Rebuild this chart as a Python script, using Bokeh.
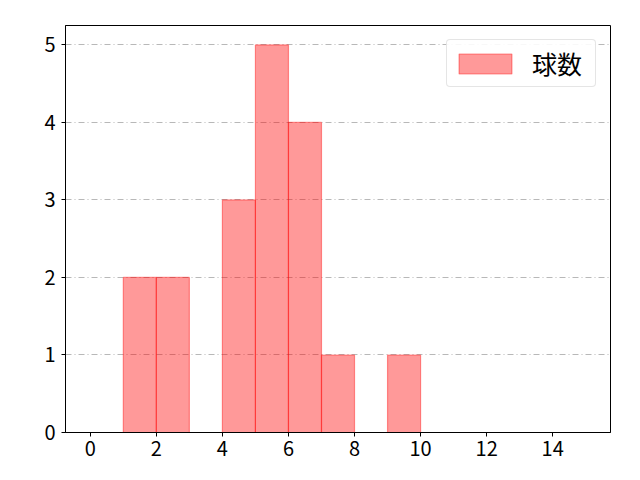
from bokeh.plotting import figure
from bokeh.models import Range1d, Legend, LegendItem, FixedTicker
from bokeh.embed import file_html
from bokeh.resources import INLINE

bin_left = [1, 2, 4, 5, 6, 7, 9]
bin_right = [2, 3, 5, 6, 7, 8, 10]
counts = [2, 2, 3, 5, 4, 1, 1]
x_ticks = [0, 2, 4, 6, 8, 10, 12, 14]
y_ticks = [0, 1, 2, 3, 4, 5]
label = "球数"

FONT = "Noto Sans CJK JP"

p = figure(width=624, height=464, output_backend="svg", toolbar_location=None,
           x_range=Range1d(-0.75, 15.75), y_range=Range1d(0, 5.25),
           min_border_left=65, min_border_right=14, min_border_top=25, min_border_bottom=32)

r = p.quad(left=bin_left, right=bin_right, bottom=0, top=counts,
           fill_color="#ff0000", fill_alpha=0.4, line_color="#ff0000", line_alpha=0.4, line_width=1.2)

p.xgrid.visible = False
p.ygrid.grid_line_color = "#b0b0b0"
p.ygrid.grid_line_dash = "6 3 1 3"
p.ygrid.grid_line_width = 0.9

p.outline_line_color = "black"
p.outline_line_width = 1
for ax, ticks in ((p.xaxis, x_ticks), (p.yaxis, y_ticks)):
    ax.ticker = FixedTicker(ticks=ticks)
    ax.major_label_text_font = FONT
    ax.major_label_text_font_size = "20px"
    ax.major_label_text_color = "black"
    ax.major_tick_in = 0
    ax.major_tick_out = 4
    ax.minor_tick_in = 0
    ax.minor_tick_out = 0
    ax.axis_line_color = "black"
    ax.major_tick_line_color = "black"
p.xaxis.major_label_standoff = 4
p.yaxis.major_label_standoff = 6

legend = Legend(items=[LegendItem(label=label, renderers=[r])], location="top_right")
legend.label_text_font = FONT
legend.label_text_font_size = "25px"
legend.label_text_color = "black"
legend.glyph_width = 66
legend.glyph_height = 25
legend.label_standoff = 14
legend.label_width = 58
legend.border_line_color = "#cccccc"
legend.border_radius = 4
legend.margin = 14
legend.padding = 5
legend.background_fill_alpha = 0.9
p.add_layout(legend)

open("out.html", "w").write(file_html(p, INLINE))
